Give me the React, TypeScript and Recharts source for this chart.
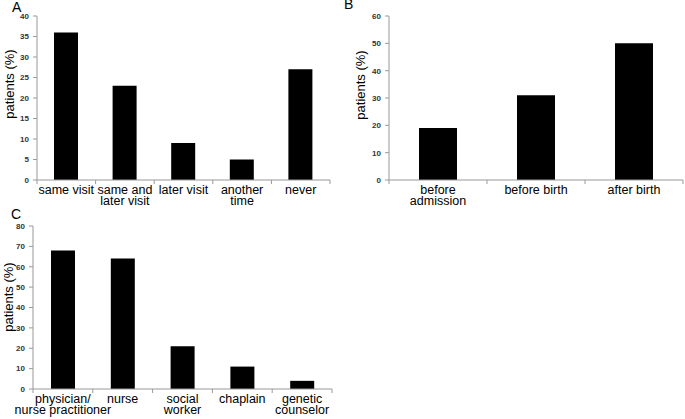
import React from 'react';
import { BarChart, Bar, XAxis, YAxis } from 'recharts';

const categoriesA = ['same visit', 'same and\nlater visit', 'later visit', 'another\ntime', 'never'];
const valuesA = [36, 23, 9, 5, 27];
const ticksA = [0, 5, 10, 15, 20, 25, 30, 35, 40];

const categoriesB = ['before\nadmission', 'before birth', 'after birth'];
const valuesB = [19, 31, 50];
const ticksB = [0, 10, 20, 30, 40, 50, 60];

const categoriesC = ['physician/\nnurse practitioner', 'nurse', 'social\nworker', 'chaplain', 'genetic\ncounselor'];
const valuesC = [68, 64, 21, 11, 4];
const ticksC = [0, 10, 20, 30, 40, 50, 60, 70, 80];

const FONT = '"Liberation Sans", Arial, sans-serif';
const AXIS = '#999';

const CatTick = (props: any) => {
  const { x, y, payload, index, visibleTicksCount } = props;
  const off = payload && typeof payload.offset === 'number' ? payload.offset : 0;
  const lines = String(payload.value).split('\n');
  const last = index === visibleTicksCount - 1;
  return (
    <g>
      <line x1={x - off} x2={x - off} y1={y} y2={y + 4} stroke={AXIS} />
      {last && <line x1={x + off} x2={x + off} y1={y} y2={y + 4} stroke={AXIS} />}
      <text x={x} y={y + 14} textAnchor="middle" fontSize={12.5} fill="#000" fontFamily={FONT}>
        {lines.map((l, i) => (
          <tspan key={i} x={x} dy={i === 0 ? 0 : 11}>{l}</tspan>
        ))}
      </text>
    </g>
  );
};

const yLabel = (cx: number, cy: number) => (p: any) => (
  <text
    x={cx}
    y={cy}
    transform={`rotate(-90 ${cx} ${cy})`}
    textAnchor="middle"
    dominantBaseline="central"
    fontSize={13}
    fill="#000"
    fontFamily={FONT}
  >
    patients (%)
  </text>
);

type PanelProps = {
  cats: string[];
  vals: number[];
  ticks: number[];
  width: number;
  height: number;
  margin: any;
  yWidth: number;
  xHeight: number;
  barSize: number;
  labelX: number;
  labelY: number;
};

const Panel = ({ cats, vals, ticks, width, height, margin, yWidth, xHeight, barSize, labelX, labelY }: PanelProps) => {
  const data = cats.map((c, i) => ({ name: c, value: vals[i] }));
  return (
    <BarChart width={width} height={height} data={data} margin={margin} barSize={barSize}>
      <XAxis
        dataKey="name"
        interval={0}
        height={xHeight}
        tickSize={0}
        tickMargin={0}
        tickLine={false}
        axisLine={{ stroke: AXIS }}
        tick={<CatTick />}
      />
      <YAxis
        width={yWidth}
        domain={[ticks[0], ticks[ticks.length - 1]]}
        ticks={ticks}
        interval={0}
        tickSize={4}
        tickMargin={4}
        tickLine={{ stroke: AXIS }}
        axisLine={{ stroke: AXIS }}
        tick={{ fontSize: 8, fill: '#333', fontFamily: FONT, fontWeight: 'bold' }}
        label={{ content: yLabel(labelX, labelY) } as any}
      />
      <Bar dataKey="value" fill="#000" isAnimationActive={false} />
    </BarChart>
  );
};

const letterStyle: React.CSSProperties = {
  position: 'absolute',
  fontFamily: FONT,
  fontSize: 14,
  color: '#000',
  lineHeight: '14px',
};

export default function App() {
  return (
    <div style={{ position: 'absolute', left: 0, top: 0, width: 685, height: 419, background: '#fff', overflow: 'hidden' }}>
      <div style={{ position: 'absolute', left: 0, top: 0 }}>
        <Panel
          cats={categoriesA}
          vals={valuesA}
          ticks={ticksA}
          width={340}
          height={215}
          margin={{ top: 16, right: 10, left: 0, bottom: 0 }}
          yWidth={37}
          xHeight={35}
          barSize={24}
          labelX={9}
          labelY={84}
        />
      </div>
      <div style={{ position: 'absolute', left: 340, top: 0 }}>
        <Panel
          cats={categoriesB}
          vals={valuesB}
          ticks={ticksB}
          width={345}
          height={215}
          margin={{ top: 16, right: 2, left: 0, bottom: 0 }}
          yWidth={49}
          xHeight={35}
          barSize={38}
          labelX={20}
          labelY={85}
        />
      </div>
      <div style={{ position: 'absolute', left: 0, top: 205 }}>
        <Panel
          cats={categoriesC}
          vals={valuesC}
          ticks={ticksC}
          width={340}
          height={214}
          margin={{ top: 21, right: 8, left: 0, bottom: 0 }}
          yWidth={33}
          xHeight={30}
          barSize={24}
          labelX={8}
          labelY={92}
        />
      </div>
      <div style={{ ...letterStyle, left: 12, top: 0 }}>A</div>
      <div style={{ ...letterStyle, left: 344, top: -3 }}>B</div>
      <div style={{ ...letterStyle, left: 11, top: 207 }}>C</div>
    </div>
  );
}
